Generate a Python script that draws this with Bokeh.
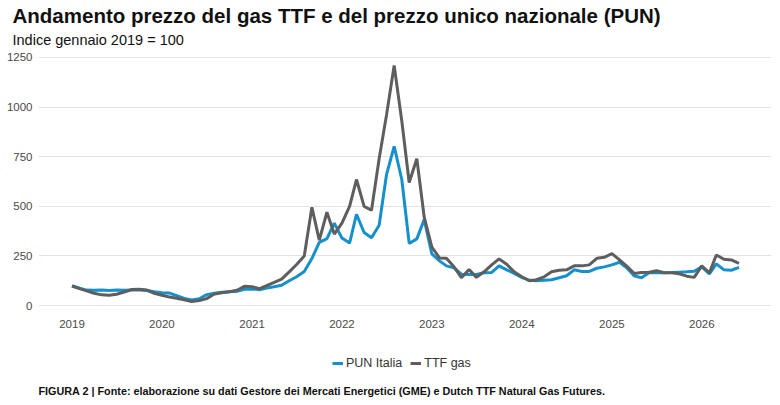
import pandas as pd
from bokeh.plotting import figure
from bokeh.layouts import column
from bokeh.models import (Range1d, FixedTicker, DatetimeTickFormatter, Legend,
                          LegendItem, Title, Label, ColumnDataSource)
from bokeh.embed import file_html
from bokeh.resources import INLINE

FONT = "Liberation Sans"

# Monthly index values, January 2019 = 100 (Jan 2019 .. Jun 2026)
start_month = "2019-01-01"
pun_italia = [
    100, 87, 78, 77, 78, 76, 78, 77, 78, 78, 76, 70,          # 2019
    65, 63, 50, 36, 28, 34, 55, 62, 67, 70, 72, 82,           # 2020
    84, 80, 88, 95, 102, 125, 145, 172, 237, 318, 337, 415,   # 2021
    340, 315, 460, 368, 342, 405, 660, 802, 635, 313, 336, 433,  # 2022
    260, 225, 200, 190, 158, 156, 157, 165, 167, 200, 180, 162,  # 2023
    142, 127, 125, 128, 130, 140, 150, 180, 172, 172, 188, 195,  # 2024
    205, 218, 192, 150, 140, 165, 165, 165, 166, 168, 170, 173,  # 2025
    195, 160, 210, 180, 178, 192,                             # 2026
]
ttf_gas = [
    98, 85, 74, 62, 54, 52, 57, 68, 81, 82, 78, 62,           # 2019
    52, 43, 37, 29, 20, 25, 35, 58, 65, 70, 77, 97,           # 2020
    95, 85, 100, 117, 133, 170, 207, 250, 495, 330, 470, 360,  # 2021
    415, 500, 635, 500, 480, 740, 960, 1210, 930, 620, 740, 445,  # 2022
    295, 240, 238, 195, 140, 182, 142, 170, 205, 235, 208, 170,  # 2023
    145, 125, 130, 145, 170, 178, 180, 200, 200, 205, 238, 243,  # 2024
    262, 230, 200, 162, 166, 168, 175, 165, 165, 160, 148, 142,  # 2025
    200, 165, 255, 233, 230, 213,                             # 2026
]
series_names = ["PUN Italia", "TTF gas"]
year_ticks = [2019, 2020, 2021, 2022, 2023, 2024, 2025, 2026]
y_ticks = [0, 250, 500, 750, 1000, 1250]

BLUE = "#1590cc"
GREY = "#5e5e5e"

months = pd.date_range(start_month, periods=len(pun_italia), freq="MS")
src = ColumnDataSource(dict(date=months, pun=pun_italia, ttf=ttf_gas))

x_start = pd.Timestamp("2019-01-01") - pd.Timedelta(days=136)
x_end = pd.Timestamp("2026-01-01") + pd.Timedelta(days=283)

# ---- main chart -----------------------------------------------------------
p = figure(width=780, height=335, x_axis_type="datetime",
           x_range=Range1d(x_start, x_end), y_range=Range1d(-40, 1285),
           output_backend="svg", toolbar_location=None, title=None,
           min_border_left=38, min_border_right=9, min_border_top=50,
           min_border_bottom=22, outline_line_color=None,
           background_fill_color="white", border_fill_color="white")

p.line("date", "pun", source=src, line_color=BLUE, line_width=3)
p.line("date", "ttf", source=src, line_color=GREY, line_width=3)

p.xaxis.ticker = FixedTicker(ticks=[pd.Timestamp(f"{y}-01-01").value // 10**6 for y in year_ticks])
p.xaxis.formatter = DatetimeTickFormatter(years="%Y", months="%Y", days="%Y",
                                          hours="%Y", minutes="%Y", seconds="%Y",
                                          milliseconds="%Y", microseconds="%Y")
p.yaxis.ticker = FixedTicker(ticks=y_ticks)
for ax in (p.xaxis[0], p.yaxis[0]):
    ax.axis_line_color = None
    ax.major_tick_line_color = None
    ax.minor_tick_line_color = None
    ax.major_tick_in = 0
    ax.major_tick_out = 0
    ax.minor_tick_out = 0
    ax.major_label_text_font = FONT
    ax.major_label_text_font_size = "11.5px"
    ax.major_label_text_color = "#4a4a4a"
p.yaxis.major_label_standoff = 6
p.xaxis.major_label_standoff = 6

p.xgrid.grid_line_color = None
p.ygrid.grid_line_color = "#e3e3e3"
p.ygrid.grid_line_width = 1

p.add_layout(Title(text="Indice gennaio 2019 = 100", align="left", offset=-26,
                   text_font=FONT, text_font_size="14.5px", text_font_style="normal",
                   text_color="#111111", standoff=6), "above")
p.add_layout(Title(text="Andamento prezzo del gas TTF e del prezzo unico nazionale (PUN)",
                   align="left", offset=-26, text_font=FONT, text_font_size="20.5px",
                   text_font_style="bold", text_color="#111111", standoff=0), "above")

# ---- legend and source note strip (frame aligned with the chart's frame) ----
foot = figure(width=780, height=70, x_range=Range1d(0, 1), y_range=Range1d(0, 1),
              output_backend="svg", toolbar_location=None, title=None,
              x_axis_location=None, y_axis_location=None,
              min_border_left=0, min_border_right=0, min_border_top=0,
              min_border_bottom=0, outline_line_color=None,
              background_fill_color="white", border_fill_color="white")
foot.grid.visible = False

# key renderers share the series data; the strip's ranges keep them out of view
k_pun = foot.line("date", "pun", source=src, line_color=BLUE, line_width=3)
k_ttf = foot.line("date", "ttf", source=src, line_color=GREY, line_width=3)

legend = Legend(items=[LegendItem(label=series_names[0], renderers=[k_pun]),
                       LegendItem(label=series_names[1], renderers=[k_ttf])],
                orientation="horizontal", location=(294, 35),
                label_text_font=FONT, label_text_font_size="12.5px",
                label_text_color="#333333", glyph_width=11, glyph_height=12,
                label_standoff=3, spacing=8, border_line_color=None,
                background_fill_alpha=0, margin=0, padding=0)
foot.add_layout(legend)

foot.add_layout(Label(x=0, y=15, x_units="screen", y_units="screen",
                      text="FIGURA 2 | Fonte: elaborazione su dati Gestore dei Mercati Energetici (GME) e Dutch TTF Natural Gas Futures.",
                      text_font=FONT, text_font_size="10.8px", text_font_style="bold",
                      text_color="#111111", text_baseline="middle"))

layout = column(p, foot, spacing=0)
open("out.html", "w").write(file_html(layout, INLINE))
